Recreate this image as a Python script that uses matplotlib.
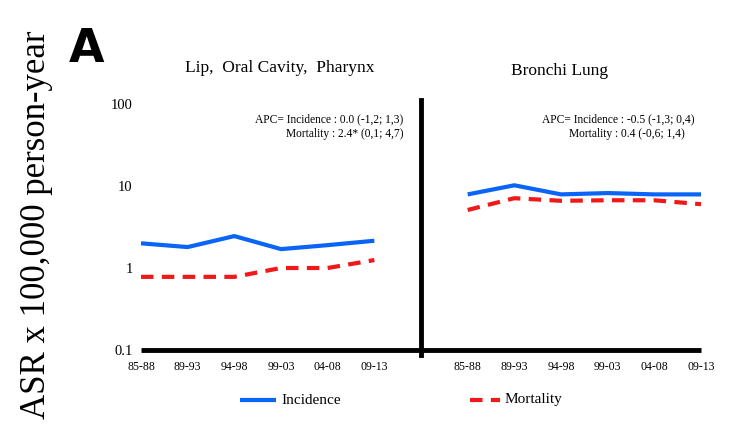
import numpy as np
import matplotlib
matplotlib.use('Agg')
import matplotlib.pyplot as plt

periods = ['85-88', '89-93', '94-98', '99-03', '04-08', '09-13']
lip_inc = [2.0, 1.8, 2.45, 1.7, 1.9, 2.15]
lip_mort = [0.78, 0.78, 0.78, 1.0, 1.0, 1.25]
lung_inc = [7.9, 10.2, 7.9, 8.2, 7.9, 7.9]
lung_mort = [5.1, 7.1, 6.6, 6.7, 6.7, 6.0]
ytick_vals = [0.1, 1, 10, 100]
ytick_labels = ['0.1', '1', '10', '100']

blue = '#0a64f5'
red = '#f01818'
serif = 'Liberation Serif'

fig = plt.figure(figsize=(7.5, 4.46), dpi=100)
ax = fig.add_axes([141/750, 1 - 350/446, 560/750, 250/446])

xl = np.arange(6)
xr = np.arange(6) + 7

ax.plot(xl, lip_inc, color=blue, lw=3, solid_capstyle='butt', clip_on=False)
ax.plot(xl, lip_mort, color=red, lw=3, ls=(0, (3, 2)), clip_on=False)
ax.plot(xr, lung_inc, color=blue, lw=3, solid_capstyle='butt', clip_on=False)
ax.plot(xr, lung_mort, color=red, lw=3, ls=(0, (3, 2)), clip_on=False)

ax.set_yscale('log')
ax.set_ylim(0.1, 0.1 * 10 ** (250 / 82))
ax.set_xlim(0, 12)

# divider between the two panels
ax.plot([6, 6], [0.087, ax.get_ylim()[1]], color='black', lw=3.5, clip_on=False)

for s in ['top', 'right', 'left']:
    ax.spines[s].set_visible(False)
ax.spines['bottom'].set_linewidth(3.5)
ax.spines['bottom'].set_capstyle('butt')

ax.set_yticks(ytick_vals)
ax.set_yticklabels(ytick_labels, fontfamily=serif, fontsize=10.5)
ax.yaxis.set_minor_locator(matplotlib.ticker.NullLocator())
ax.tick_params(axis='y', length=0, pad=6)

ax.set_xticks(list(xl) + list(xr))
ax.set_xticklabels(periods + periods, fontfamily=serif, fontsize=8.5)
ax.tick_params(axis='x', length=0, pad=8)

fig.text(37/750, 1 - 225/446, 'ASR x 100,000 person-year', rotation=90,
         ha='center', va='center', fontfamily=serif, fontsize=25)
fig.text(69/750, 1 - 50/446, 'A', fontfamily='DejaVu Sans', fontweight='bold',
         fontsize=33, ha='left', va='center')

fig.text(280/750, 1 - 68/446, 'Lip,  Oral Cavity,  Pharynx', ha='center', va='center',
         fontfamily=serif, fontsize=12.5)
fig.text(560/750, 1 - 71/446, 'Bronchi Lung', ha='center', va='center',
         fontfamily=serif, fontsize=12.5)

fig.text(403/750, 1 - 119/446, 'APC= Incidence : 0.0 (-1,2; 1,3)', ha='right', va='center',
         fontfamily=serif, fontsize=8.3)
fig.text(403/750, 1 - 134/446, 'Mortality : 2.4* (0,1; 4,7)', ha='right', va='center',
         fontfamily=serif, fontsize=8.3)
fig.text(694/750, 1 - 119/446, 'APC= Incidence : -0.5 (-1,3; 0,4)', ha='right', va='center',
         fontfamily=serif, fontsize=8.3)
fig.text(685/750, 1 - 134/446, 'Mortality : 0.4 (-0,6; 1,4)', ha='right', va='center',
         fontfamily=serif, fontsize=8.3)

# legend drawn by hand
ly = 1 - 400/446
fig.add_artist(plt.Line2D([240/750, 276/750], [ly, ly], color=blue, lw=3,
                          solid_capstyle='butt'))
fig.text(281/750, ly, 'Incidence', ha='left', va='center', fontfamily=serif, fontsize=11)
fig.add_artist(plt.Line2D([470/750, 500/750], [ly, ly], color=red, lw=3,
                          ls=(0, (3, 2))))
fig.text(505/750, ly, 'Mortality', ha='left', va='center', fontfamily=serif, fontsize=11)

fig.savefig('out.png', dpi=100)
